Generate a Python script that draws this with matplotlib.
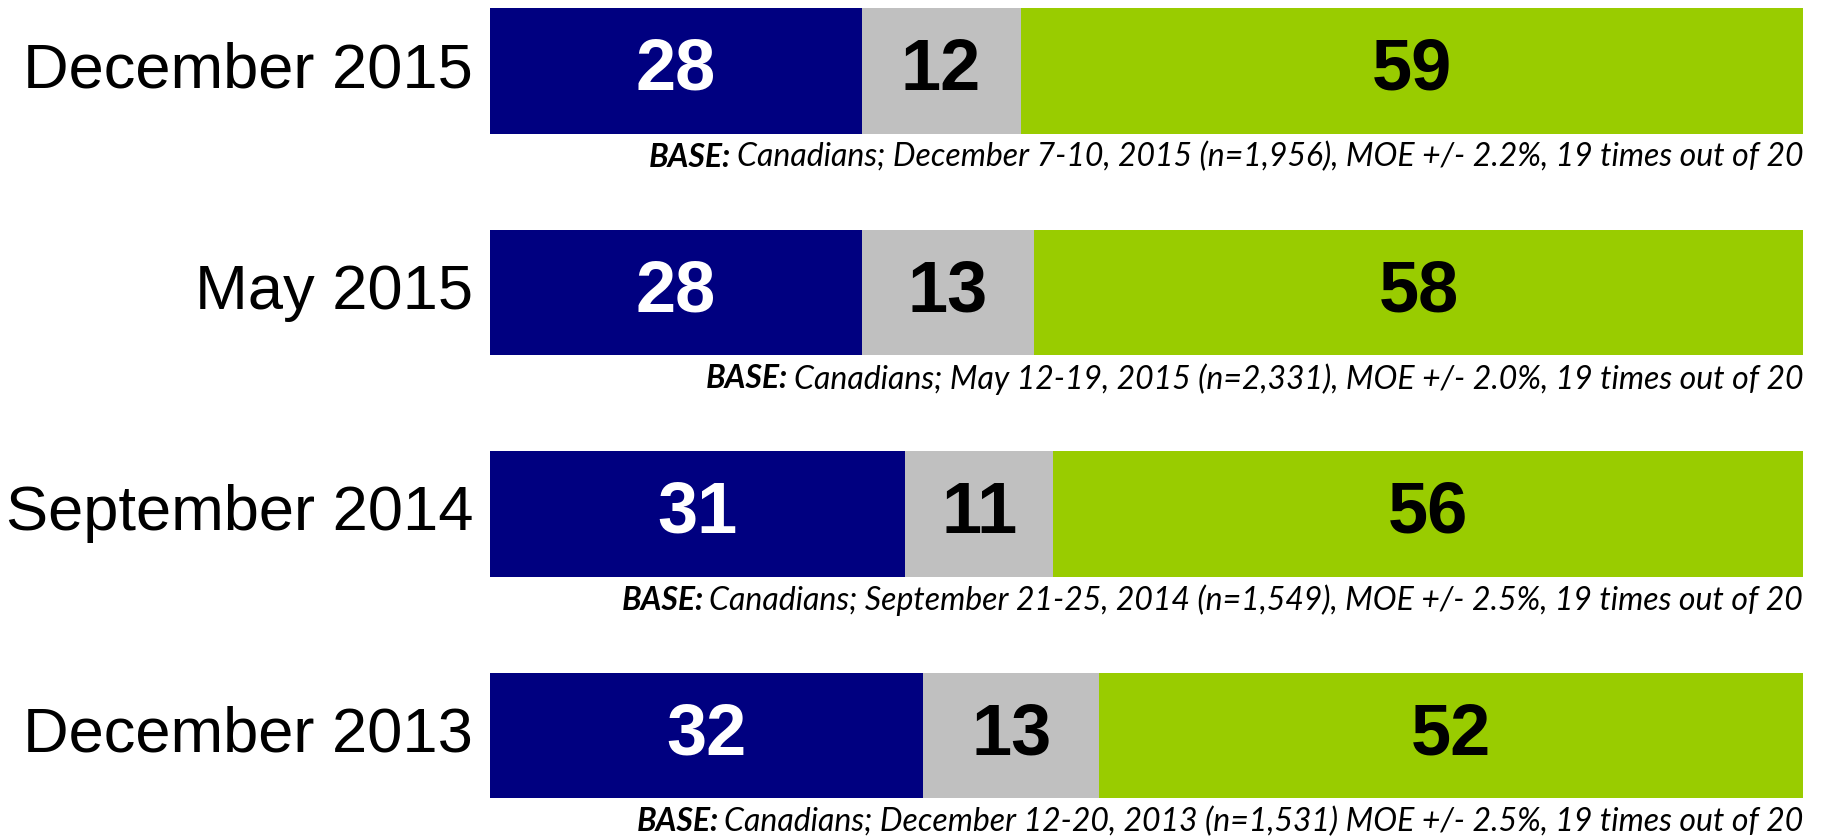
import matplotlib.pyplot as plt

periods = ['December 2015', 'May 2015', 'September 2014', 'December 2013']
oppose = [28, 28, 31, 32]
unsure = [12, 13, 11, 13]
support = [59, 58, 56, 52]
bases = [
    'Canadians; December 7-10, 2015 (n=1,956), MOE +/- 2.2%, 19 times out of 20',
    'Canadians; May 12-19, 2015 (n=2,331), MOE +/- 2.0%, 19 times out of 20',
    'Canadians; September 21-25, 2014 (n=1,549), MOE +/- 2.5%, 19 times out of 20',
    'Canadians; December 12-20, 2013 (n=1,531) MOE +/- 2.5%, 19 times out of 20',
]

colors = ['#000080', '#C0C0C0', '#99CC00']
text_colors = ['white', 'black', 'black']

fig = plt.figure(figsize=(18.22, 8.36), dpi=100)
ax = fig.add_axes([0.269, 0, 0.7207, 1])
ax.set_xlim(0, 1)
ax.set_ylim(3.454, -0.3205)
ax.axis('off')

for i in range(len(periods)):
    vals = [oppose[i], unsure[i], support[i]]
    total = sum(vals)
    left = 0
    for v, c, tc in zip(vals, colors, text_colors):
        w = v / total
        ax.barh(i, w, left=left, height=0.565, color=c)
        ax.text(left + w / 2, i, str(v), ha='center', va='center',
                fontsize=52, fontweight='bold', color=tc, family='Liberation Sans')
        left += w
    ax.text(-0.013, i, periods[i], ha='right', va='center', fontsize=45.5,
            family='Liberation Sans', clip_on=False)
    ax.text(1.0, i + 0.39, bases[i], ha='right', va='center', fontsize=23,
            style='italic', family='Lato')
    # bold "BASE:" prefix placed left of the rest
    t = ax.texts[-1]
    fig.canvas.draw()
    bb = t.get_window_extent()
    x0 = ax.transData.inverted().transform((bb.x0, 0))[0]
    ax.text(x0 - 0.004, i + 0.39, 'BASE:', ha='right', va='center', fontsize=23,
            style='italic', fontweight='bold', family='Lato')

fig.savefig('out.png', dpi=100)
